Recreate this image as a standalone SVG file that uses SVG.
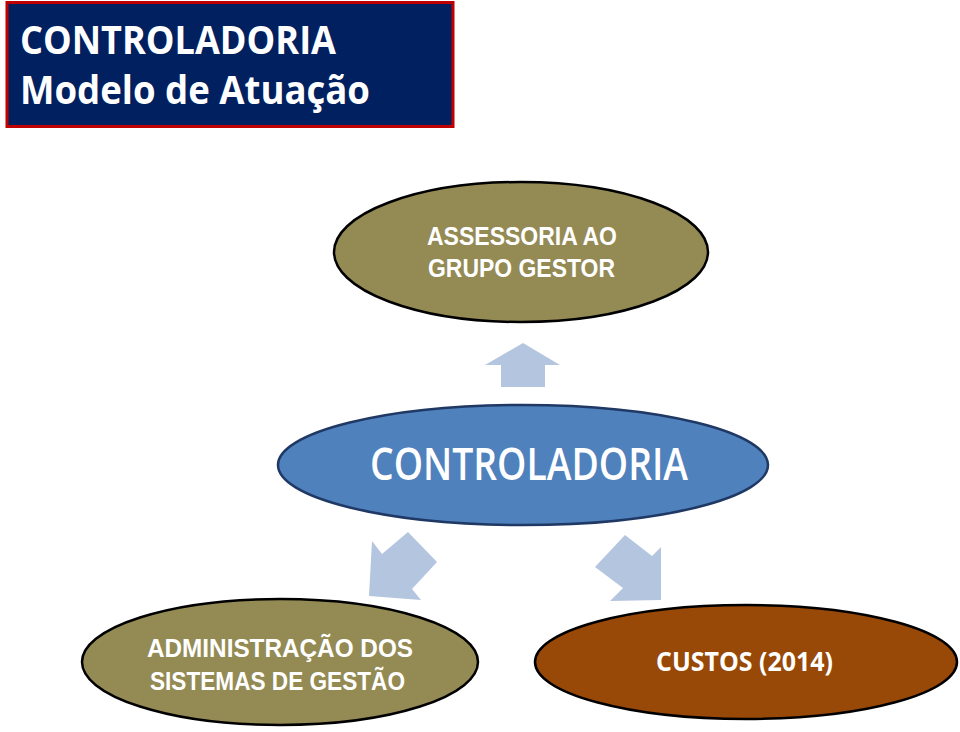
<svg xmlns="http://www.w3.org/2000/svg" width="960" height="732" viewBox="0 0 960 732">
<style>
.t{font-family:"Open Sans","Noto Sans","Liberation Sans",sans-serif;fill:#ffffff;font-weight:700}
.t2{font-family:"Liberation Sans","Arial",sans-serif;fill:#ffffff;font-weight:700}
.olive{fill:#948a54;stroke:#000000;stroke-width:2.5}
.arrow{fill:#b4c5df;stroke:none}
</style>
<rect width="960" height="732" fill="#ffffff"/>
<g id="title">
<rect x="7" y="2.5" width="446" height="124" fill="#002060" stroke="#c00000" stroke-width="3"/>
<text class="t" x="20" y="54" font-size="40" textLength="316" lengthAdjust="spacingAndGlyphs">CONTROLADORIA</text>
<text class="t" x="20" y="104" font-size="40" textLength="350" lengthAdjust="spacingAndGlyphs">Modelo de Atuação</text>
</g>
<g id="connectors">
<polygon class="arrow" points="523,343 560,365 545,365 545,387 501,387 501,365 485,365"/>
<polygon class="arrow" points="372,541 382,554 408,532 437,562 412,589 421,600 369,596"/>
<polygon class="arrow" points="595,567 625,535 652,556 661,547 661,600 610,601 623,588"/>
</g>
<g id="assessoria">
<ellipse class="olive" cx="521" cy="252" rx="187" ry="70"/>
<text class="t2" x="427" y="245" font-size="25" textLength="190" lengthAdjust="spacingAndGlyphs">ASSESSORIA AO</text>
<text class="t2" x="428" y="277" font-size="25" textLength="187" lengthAdjust="spacingAndGlyphs">GRUPO GESTOR</text>
</g>
<g id="controladoria">
<ellipse cx="523" cy="465" rx="245" ry="60" fill="#4f81bd" stroke="#1f3864" stroke-width="2.5"/>
<text class="t" x="370" y="480" font-size="46" style="font-weight:600" textLength="318" lengthAdjust="spacingAndGlyphs">CONTROLADORIA</text>
</g>
<g id="administracao">
<ellipse class="olive" cx="280" cy="662" rx="198" ry="63"/>
<text class="t2" x="147" y="657" font-size="25" textLength="266" lengthAdjust="spacingAndGlyphs">ADMINISTRAÇÃO DOS</text>
<text class="t2" x="150" y="690" font-size="25" textLength="255" lengthAdjust="spacingAndGlyphs">SISTEMAS DE GESTÃO</text>
</g>
<g id="custos">
<ellipse cx="746" cy="662" rx="211" ry="57" fill="#984807" stroke="#000000" stroke-width="2.5"/>
<text class="t" x="656" y="671" font-size="27" textLength="177" lengthAdjust="spacingAndGlyphs">CUSTOS (2014)</text>
</g>
</svg>
